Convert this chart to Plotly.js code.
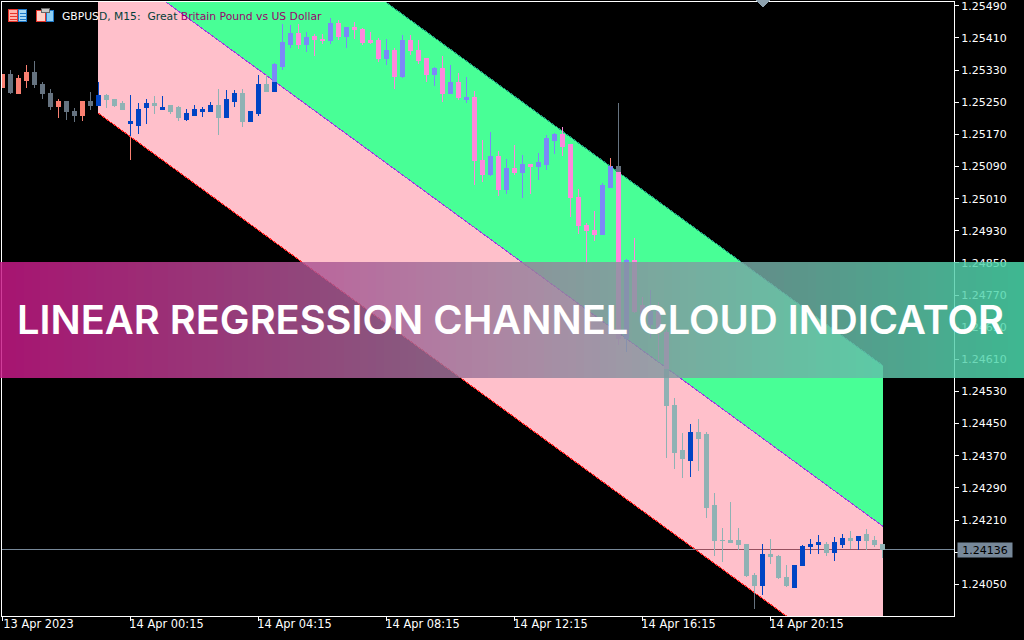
<!DOCTYPE html>
<html>
<head>
<meta charset="utf-8">
<script src="https://cdn.plot.ly/plotly-3.0.1.min.js"></script>
<style>html,body{margin:0;padding:0;background:#000;overflow:hidden}#chart{width:1024px;height:640px}
#chart svg path{shape-rendering:crispEdges !important}</style>
</head>
<body>
<div id="chart"></div>
<script>
// Prices are stored in pipettes (1.25320 = 125320).
const priceTicks = [125490,125410,125330,125250,125170,125090,125010,124930,124850,124770,124690,124610,124530,124450,124370,124290,124210,124130,124050];
const timeBars = [0,16,32,48,64,80,96];
const timeLabels = ['13 Apr 2023','14 Apr 00:15','14 Apr 04:15','14 Apr 08:15','14 Apr 12:15','14 Apr 16:15','14 Apr 20:15'];
const lastPrice = 124136;

// Candles drawn on the black background
const blackBar = [0,1,2,3,4,5,6,7,8,9,10,11,77];
const blackOpen = [125286,125320,125273,125305,125325,125293,125271,125239,125252,125226,125218,125251,125089];
const blackHigh = [125320,125330,125318,125343,125353,125300,125283,125257,125252,125236,125252,125276,125248];
const blackLow = [125286,125271,125271,125286,125286,125259,125231,125211,125206,125201,125204,125231,125076];
const blackClose = [125320,125274,125308,125325,125293,125271,125239,125252,125227,125216,125251,125241,125076];

// Candles drawn on the pink band
const pinkBar = [12,13,14,15,16,17,18,19,20,21,22,23,24,25,26,27,28,29,30,31,32,33,34,83,84,85,86,87,88,89,90,91,92,93,94,95,96,97,98,99,100,101,102,103,104,105,106,107,108,109,110];
const pinkOpen = [125241,125268,125258,125246,125198,125193,125236,125246,125231,125241,125238,125208,125218,125228,125228,125241,125213,125253,125271,125201,125223,125295,125278,124588,124496,124382,124359,124429,124422,124245,124160,124158,124158,124150,124073,124048,124123,124120,124068,124043,124096,124143,124148,124150,124128,124150,124165,124160,124173,124158,124150];
const pinkHigh = [125300,125271,125259,125252,125268,125248,125258,125266,125266,125243,125241,125233,125243,125238,125251,125283,125281,125281,125283,125226,125318,125320,125301,124588,124514,124427,124449,124462,124429,124277,124190,124255,124190,124150,124078,124150,124163,124123,124098,124098,124148,124163,124173,124155,124168,124175,124183,124170,124188,124170,124150];
const pinkLow = [125241,125236,125239,125231,125165,125171,125196,125221,125231,125221,125203,125203,125218,125213,125228,125169,125211,125238,125188,125201,125216,125276,125276,124364,124337,124315,124317,124332,124215,124120,124105,124155,124135,124068,124029,124023,124100,124063,124043,124043,124096,124125,124125,124120,124108,124140,124138,124135,124135,124143,124115];
const pinkClose = [125266,125256,125243,125233,125203,125231,125246,125243,125236,125228,125213,125221,125231,125231,125241,125213,125256,125271,125201,125226,125295,125276,125301,124494,124377,124362,124429,124414,124240,124158,124158,124155,124148,124073,124048,124123,124120,124066,124046,124098,124143,124150,124153,124128,124153,124165,124160,124170,124158,124148,124136];

// Candles drawn on the green band
const greenBar = [34,35,36,37,38,39,40,41,42,43,44,45,46,47,48,49,50,51,52,53,54,55,56,57,58,59,60,61,62,63,64,65,66,67,68,69,70,71,72,73,74,75,76,77,78,79,80,81,82,83];
const greenOpen = [125301,125340,125395,125422,125393,125413,125407,125403,125447,125413,125435,125432,125403,125403,125360,125380,125313,125403,125378,125358,125320,125335,125271,125298,125258,125262,125106,125069,125114,125032,125084,125074,125096,125091,125096,125154,125169,125144,125014,124944,124932,124922,125039,125076,124663,124857,124745,124696,124728,124678];
const greenHigh = [125348,125445,125442,125445,125425,125420,125420,125460,125455,125435,125450,125435,125425,125410,125407,125385,125417,125417,125405,125360,125338,125365,125343,125323,125313,125278,125156,125176,125129,125109,125144,125119,125096,125124,125169,125174,125188,125144,125034,124949,124979,125049,125089,125076,124860,124912,124765,124783,124753,124683];
const greenLow = [125301,125330,125385,125383,125375,125365,125395,125395,125405,125385,125407,125393,125395,125350,125343,125283,125310,125368,125345,125300,125290,125251,125271,125256,125248,125044,125051,125066,125017,125022,125069,125012,125022,125056,125081,125121,125116,124964,124922,124847,124905,124922,125039,124646,124628,124725,124688,124663,124608,124588];
const greenClose = [125343,125398,125422,125393,125410,125407,125403,125447,125413,125435,125430,125400,125400,125360,125380,125313,125403,125380,125353,125320,125335,125271,125298,125261,125263,125104,125071,125114,125032,125084,125074,125096,125091,125101,125159,125169,125141,125012,124942,124930,124922,125044,125089,124663,124857,124728,124708,124728,124683,124588];

// Wick parts that stick out of a band onto the black background
const salmonWickBar = [16,16,null,76,76];
const salmonWickPrice = [125165,125106,null,125111,125089];
const grayWickBar = [94,94];
const grayWickPrice = [124029,123989];

// Regression channel end points
const channelBar = [11.96,110.09];
const channelUpper = [126023,124594];
const channelMiddle = [125623,124194];
const channelLower = [125223,123795];

const p = v => v === null ? null : v / 1e5;
const ps = a => a.map(p);

// pixel helpers for the chart chrome only
const L = 2, R = 954, T = 2, B = 616;
const px = x => (x - L) / (R - L);
const py = y => 1 - (y - T) / (B - T);
const xRange = [-0.0625, 118.9375];
const yRange = [p(123971.1), p(125499.6)];

const shapes = [];
function box(x0, y0, x1, y1, fill, line) {
  shapes.push({type:'rect', xref:'paper', yref:'paper', x0:px(x0), x1:px(x1), y0:py(y1), y1:py(y0), fillcolor:fill,
    line: line ? {color:line, width:1} : {width:0}, layer:'above'});
}
// toolbar icons
box(8.5,9.5,17.5,21.5,'#ffb4aa','#e8352b');
box(18.5,9.5,26.5,21.5,'#a8d8f5','#1f78c8');
[12.5,15.5,18.5].forEach(y => { box(10,y,16.5,y+1,'#e8352b'); box(20,y,25.5,y+1,'#1f78c8'); });
box(36.5,10.5,45.5,21.5,'#ffd0c8','#e8352b');
box(46.5,10.5,53.5,21.5,'#8fd0f5','#1f78c8');
box(41,8,49,12,'#c8c8c8','#666666');
// chart-shift marker
shapes.push({type:'path', xref:'paper', yref:'paper', layer:'above', line:{width:0}, fillcolor:'#8fa3b0',
  path:`M ${px(756)} ${py(0)} L ${px(770)} ${py(0)} L ${px(763)} ${py(8)} Z`});
// banner gradient
const cStops = [[199,24,135],[155,125,155],[74,219,173]];
for (let x = 0; x < 1024; x += 8) {
  const t = (x + 4) / 1024 * 2;
  const i = t < 1 ? 0 : 1;
  const c = cStops[i].map((v, j) => Math.round(v + (cStops[i + 1][j] - v) * (t - i)));
  shapes.push({type:'rect', xref:'paper', yref:'paper', layer:'above', line:{width:0},
    x0:px(x), x1:px(x + 8), y0:py(378), y1:py(262), fillcolor:`rgba(${c[0]},${c[1]},${c[2]},0.84)`});
}

function candles(bar, o, h, l, c, up, down) {
  return {type:'candlestick', xaxis:'x2', yaxis:'y2', x:bar, open:ps(o), high:ps(h), low:ps(l), close:ps(c),
    increasing:{line:{color:up, width:1}, fillcolor:up},
    decreasing:{line:{color:down, width:1}, fillcolor:down},
    hoverinfo:'skip', showlegend:false};
}
const line = (x, y, color, extra) => Object.assign({type:'scatter', mode:'lines', x:x, y:y,
  line:{color:color, width:1}, hoverinfo:'skip', showlegend:false}, extra || {});

const lastX = [xRange[0], 86.6];
const traces = [
  line(channelBar, ps(channelLower), '#ff2a2a'),
  line(channelBar, ps(channelMiddle), '#9a3fe0', {fill:'tonexty', fillcolor:'#ffc0cb'}),
  line(channelBar, ps(channelUpper), '#1f9d7a', {fill:'tonexty', fillcolor:'#48ff96'}),
  line(channelBar, ps(channelMiddle), '#9a3fe0'),
  line(channelBar, ps(channelLower), '#ff2a2a'),
  line(lastX, [p(lastPrice), p(lastPrice)], '#778899'),
  line([86.6, 110.09], [p(lastPrice), p(lastPrice)], '#96505f'),
  line([110.09, xRange[1]], [p(lastPrice), p(lastPrice)], '#778899'),
  candles(blackBar, blackOpen, blackHigh, blackLow, blackClose, '#fa8072', '#667380'),
  candles(pinkBar, pinkOpen, pinkHigh, pinkLow, pinkClose, '#0044c4', '#8fb2b4'),
  candles(greenBar, greenOpen, greenHigh, greenLow, greenClose, '#7c88f8', '#ff88dd'),
  line(salmonWickBar, ps(salmonWickPrice), '#fa8072', {xaxis:'x2', yaxis:'y2'}),
  line(grayWickBar, ps(grayWickPrice), '#667380', {xaxis:'x2', yaxis:'y2'})
];

const layout = {
  width:1024, height:640, paper_bgcolor:'#000', plot_bgcolor:'#000',
  margin:{l:L, r:1024-R, t:T, b:640-B, pad:0},
  showlegend:false, boxmode:'overlay', boxgap:0.5, boxgroupgap:0, hovermode:false,
  xaxis:{range:xRange, tickmode:'array', tickvals:timeBars, ticktext:timeBars.map(()=>''), ticks:'outside', ticklen:4, tickcolor:'#fff',
    showgrid:false, zeroline:false, showline:true, linecolor:'#fff', linewidth:1, mirror:true, showticklabels:false, fixedrange:true},
  yaxis:{side:'right', range:yRange, tickmode:'array', tickvals:ps(priceTicks), ticktext:priceTicks.map(v=>p(v).toFixed(5)), ticklabeloverflow:'allow',
    ticks:'outside', ticklen:4, tickcolor:'#fff', tickfont:{family:'DejaVu Sans', size:11, color:'#fff'}, showgrid:false, zeroline:false, showline:true, linecolor:'#fff', linewidth:1, mirror:true, fixedrange:true},
  xaxis2:{overlaying:'x', anchor:'y2', side:'bottom', range:xRange, tickmode:'array', tickvals:timeBars.map(b=>b+4.5), ticktext:timeLabels,
    ticks:'', ticklen:0, tickfont:{family:'DejaVu Sans', size:11.4, color:'#fff'}, tickangle:0, showgrid:false, zeroline:false, showline:false, rangeslider:{visible:false}, fixedrange:true},
  yaxis2:{overlaying:'y', anchor:'x2', side:'right', range:yRange, visible:false, fixedrange:true},
  shapes:shapes,
  annotations:[
    {xref:'paper', yref:'paper', x:px(60), y:py(16), xanchor:'left', yanchor:'middle', showarrow:false,
     font:{family:'DejaVu Sans', size:10.75, color:'#fff'},
     text:'<span style="color:#ffffff">GBPUS</span><span style="color:#03403a">D, M15:&nbsp;&nbsp;Great </span><span style="color:#9b006e">Britain Pound vs US Dollar</span>'},
    {xref:'paper', yref:'y', x:px(957), y:p(lastPrice), xanchor:'left', yanchor:'middle', showarrow:false, width:54, height:14, borderpad:0,
     bgcolor:'#778899', align:'center', font:{family:'DejaVu Sans', size:11, color:'#000'}, text:p(lastPrice).toFixed(5)},
    {xref:'paper', yref:'paper', x:px(510.5), y:py(319), xanchor:'center', yanchor:'middle', showarrow:false,
     font:{family:'Inter', size:39.8, weight:600, color:'#fff'}, text:'LINEAR REGRESSION CHANNEL CLOUD INDICATOR'}
  ]
};
Plotly.newPlot('chart', traces, layout, {displayModeBar:false, staticPlot:true});
</script>
</body>
</html>
